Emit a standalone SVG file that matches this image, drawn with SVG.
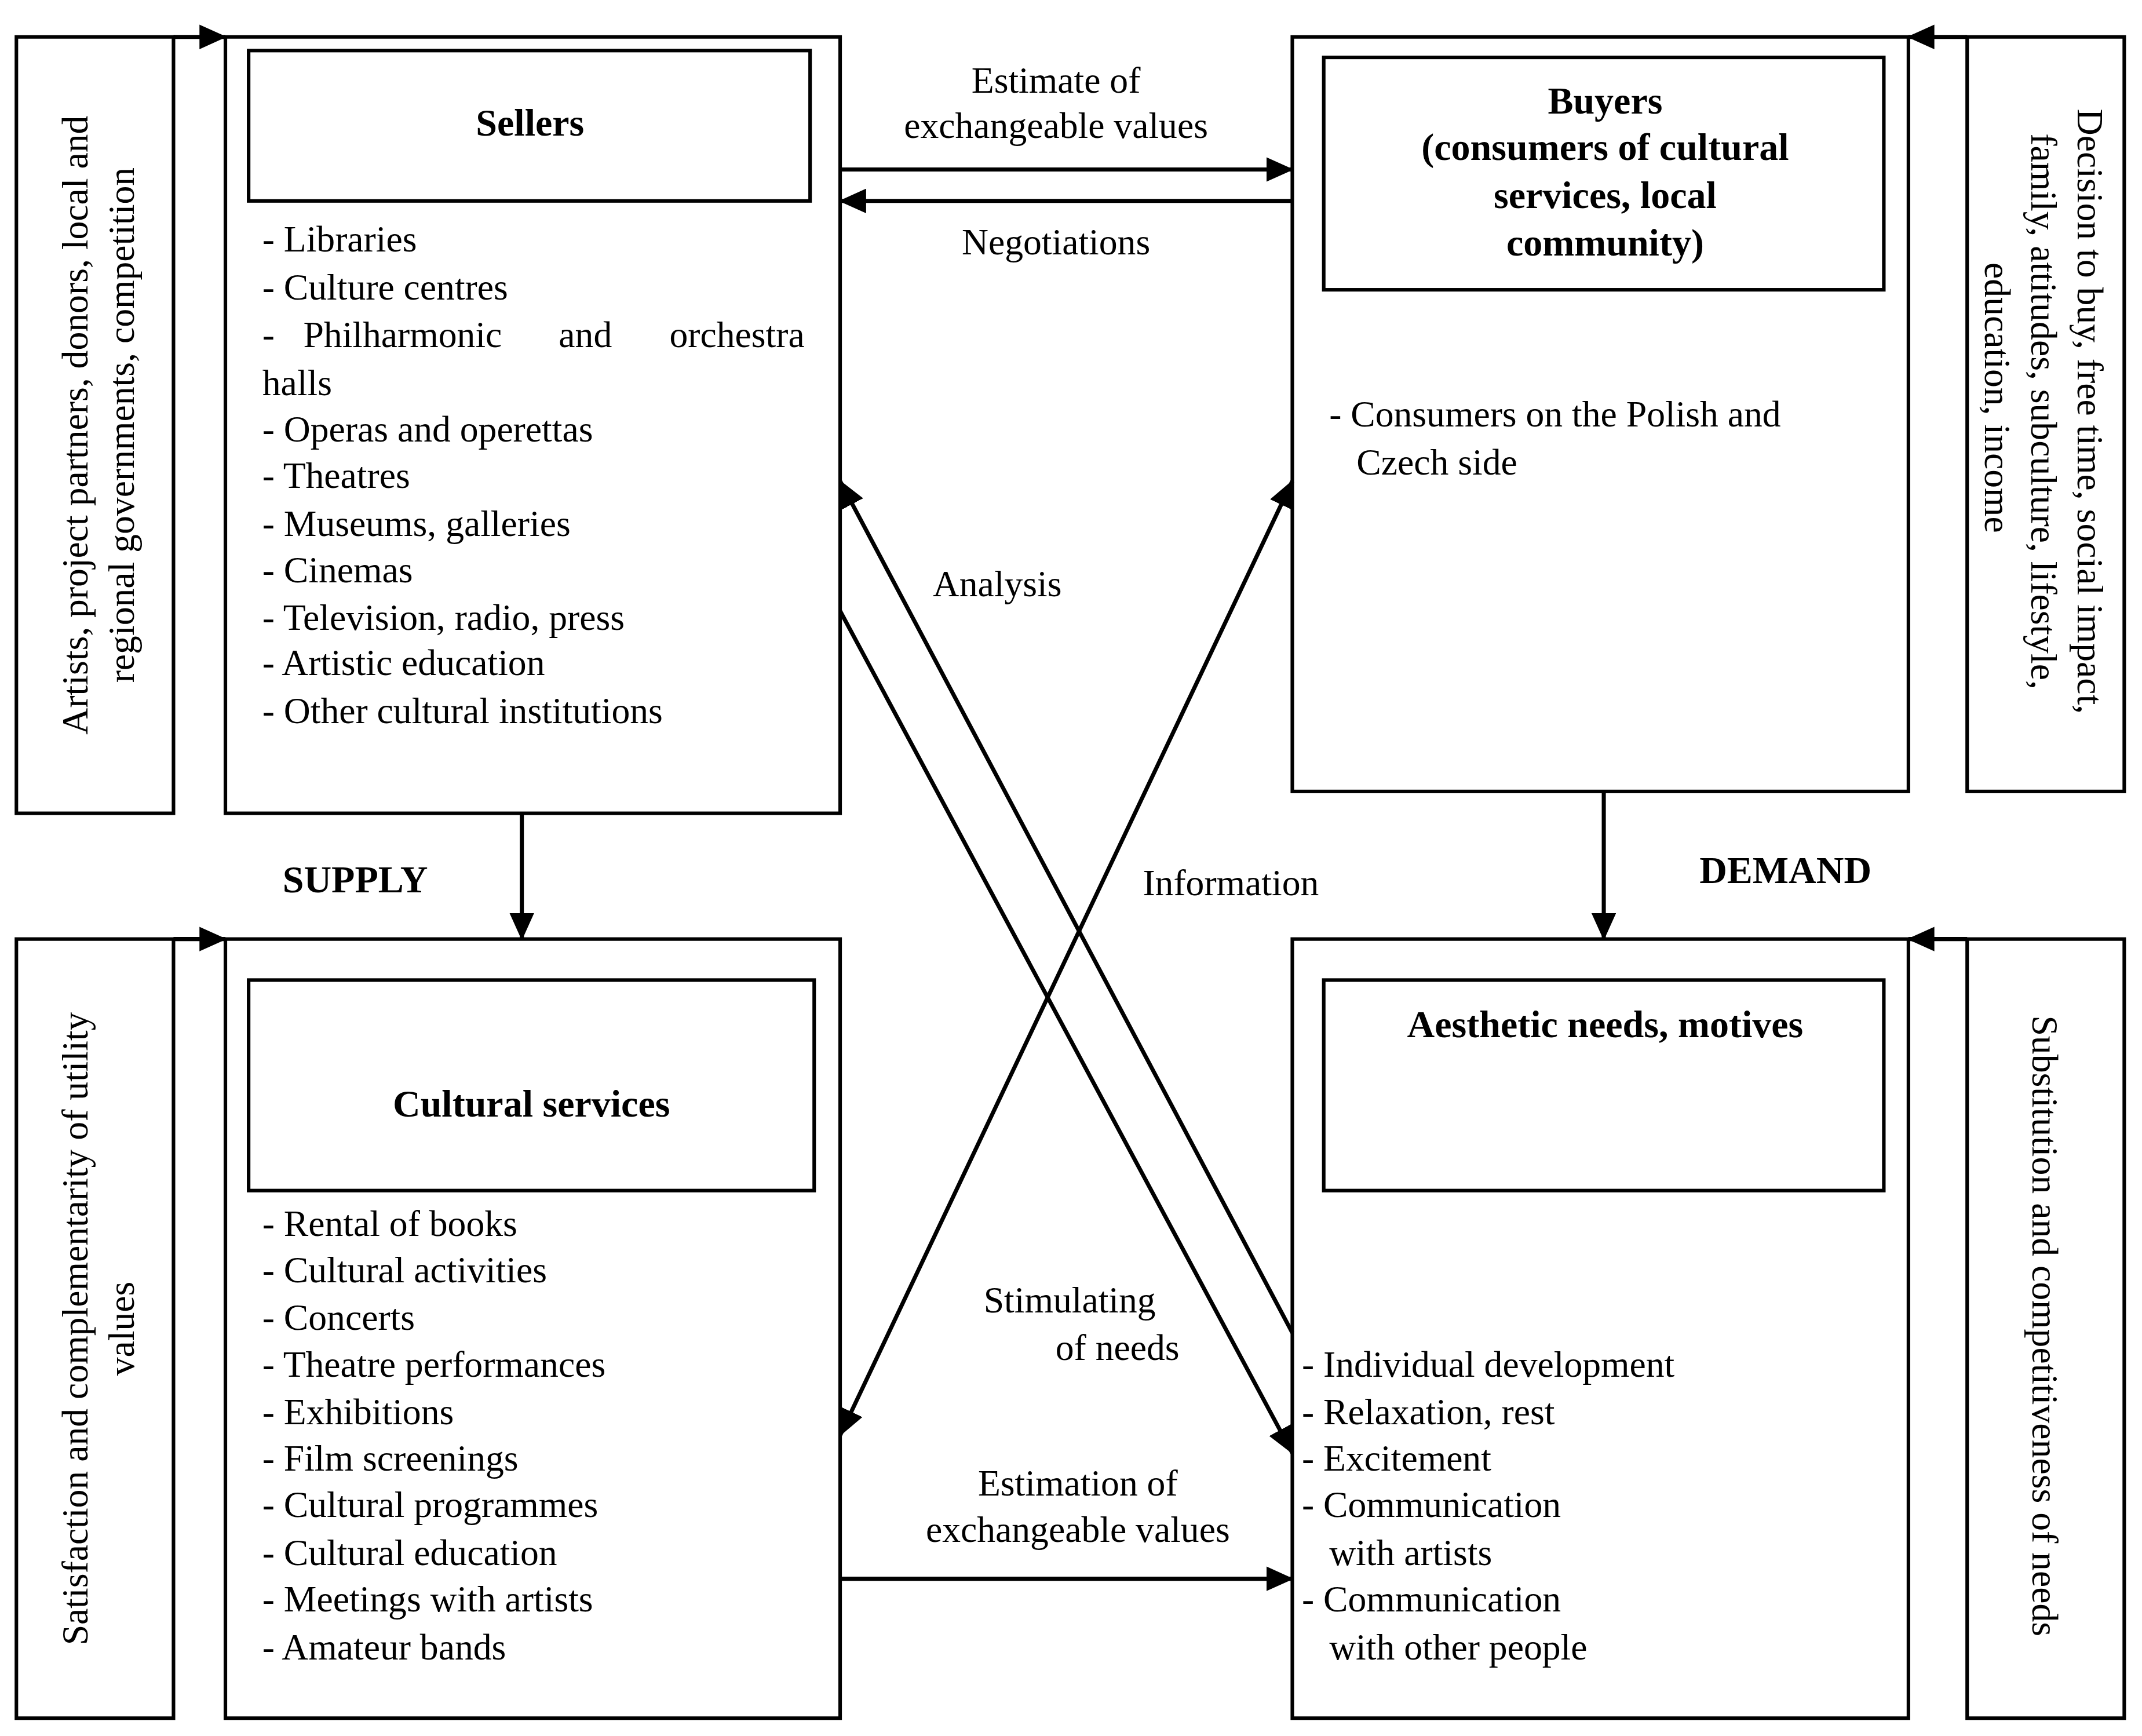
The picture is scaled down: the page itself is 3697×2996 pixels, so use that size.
<svg xmlns="http://www.w3.org/2000/svg" width="3697" height="2996" viewBox="0 0 3697 2996">
<style>
.b{fill:none;stroke:#000;stroke-width:2.6}
.t{font-family:"Liberation Serif","DejaVu Serif",serif;font-size:27px;fill:#000}
.h{font-family:"Liberation Serif","DejaVu Serif",serif;font-size:28px;font-weight:bold;fill:#000}
.c{text-anchor:middle}
.l{stroke:#000;stroke-width:3;fill:none}
</style>
<defs>
<marker id="a" viewBox="0 0 20 18" refX="19" refY="9" markerWidth="20" markerHeight="18" markerUnits="userSpaceOnUse" orient="auto-start-reverse"><path d="M0,0L20,9L0,18z" fill="#000"/></marker>
</defs>
<rect width="3697" height="2996" fill="#fff"/>
<g transform="scale(2.3578,2.359)">
<g id="leftTop"><rect class="b" x="12" y="27" width="115" height="568"/>
<text class="t c" transform="translate(64,311) rotate(-90)">Artists, project partners, donors, local and</text>
<text class="t c" transform="translate(98,311) rotate(-90)">regional governments, competition</text></g>
<g id="sellers"><rect class="b" x="165" y="27" width="450" height="568"/><rect class="b" x="182" y="37" width="411" height="110"/>
<text class="h c" x="388" y="99">Sellers</text>
<text class="t" x="192" y="184">- Libraries</text>
<text class="t" x="192" y="219">- Culture centres</text>
<text class="t" x="192" y="254">-</text><text class="t" x="222" y="254">Philharmonic</text><text class="t" x="409" y="254">and</text><text class="t" x="589" y="254" text-anchor="end">orchestra</text>
<text class="t" x="192" y="289">halls</text>
<text class="t" x="192" y="323">- Operas and operettas</text>
<text class="t" x="192" y="357">- Theatres</text>
<text class="t" x="192" y="392">- Museums, galleries</text>
<text class="t" x="192" y="426">- Cinemas</text>
<text class="t" x="192" y="461">- Television, radio, press</text>
<text class="t" x="192" y="494">- Artistic education</text>
<text class="t" x="192" y="529">- Other cultural institutions</text></g>
<g id="buyers"><rect class="b" x="946" y="27" width="451" height="552"/><rect class="b" x="969" y="42" width="410" height="170"/>
<text class="h c" x="1175" y="83">Buyers</text>
<text class="h c" x="1175" y="117">(consumers of cultural</text>
<text class="h c" x="1175" y="152">services, local</text>
<text class="h c" x="1175" y="187">community)</text>
<text class="t" x="973" y="312">- Consumers on the Polish and</text>
<text class="t" x="993" y="347">Czech side</text></g>
<g id="rightTop"><rect class="b" x="1440" y="27" width="115" height="552"/>
<text class="t c" transform="translate(1521,301) rotate(90)">Decision to buy, free time, social impact,</text>
<text class="t c" transform="translate(1487,301) rotate(90)">family, attitudes, subculture, lifestyle,</text>
<text class="t c" transform="translate(1453,291) rotate(90)">education, income</text></g>
<g id="leftBottom"><rect class="b" x="12" y="687" width="115" height="570"/>
<text class="t c" transform="translate(64,972) rotate(-90)">Satisfaction and complementarity of utility</text>
<text class="t c" transform="translate(98,972) rotate(-90)">values</text></g>
<g id="cultural"><rect class="b" x="165" y="687" width="450" height="570"/><rect class="b" x="182" y="717" width="414" height="154"/>
<text class="h c" x="389" y="817">Cultural services</text>
<text class="t" x="192" y="904">- Rental of books</text>
<text class="t" x="192" y="938">- Cultural activities</text>
<text class="t" x="192" y="973">- Concerts</text>
<text class="t" x="192" y="1007">- Theatre performances</text>
<text class="t" x="192" y="1042">- Exhibitions</text>
<text class="t" x="192" y="1076">- Film screenings</text>
<text class="t" x="192" y="1110">- Cultural programmes</text>
<text class="t" x="192" y="1145">- Cultural education</text>
<text class="t" x="192" y="1179">- Meetings with artists</text>
<text class="t" x="192" y="1214">- Amateur bands</text></g>
<g id="aesthetic"><rect class="b" x="946" y="687" width="451" height="570"/><rect class="b" x="969" y="717" width="410" height="154"/>
<text class="h c" x="1175" y="759">Aesthetic needs, motives</text>
<text class="t" x="953" y="1007">- Individual development</text>
<text class="t" x="953" y="1042">- Relaxation, rest</text>
<text class="t" x="953" y="1076">- Excitement</text>
<text class="t" x="953" y="1110">- Communication</text>
<text class="t" x="973" y="1145">with artists</text>
<text class="t" x="953" y="1179">- Communication</text>
<text class="t" x="973" y="1214">with other people</text></g>
<g id="rightBottom"><rect class="b" x="1440" y="687" width="115" height="570"/>
<text class="t c" transform="translate(1488,970) rotate(90)">Substitution and competitiveness of needs</text></g>
<g id="labels">
<text class="t c" x="773" y="68">Estimate of</text>
<text class="t c" x="773" y="101">exchangeable values</text>
<text class="t c" x="773" y="186">Negotiations</text>
<text class="t c" x="730" y="436">Analysis</text>
<text class="t c" x="901" y="655">Information</text>
<text class="h c" x="260" y="653">SUPPLY</text>
<text class="h c" x="1307" y="646">DEMAND</text>
<text class="t c" x="783" y="960">Stimulating</text>
<text class="t c" x="818" y="995">of needs</text>
<text class="t c" x="789" y="1094">Estimation of</text>
<text class="t c" x="789" y="1128">exchangeable values</text>
</g>
<g id="connectors">
<path class="l" d="M127,27H165" marker-end="url(#a)"/>
<path class="l" d="M127,687H165" marker-end="url(#a)"/>
<path class="l" d="M1440,27H1397" marker-end="url(#a)"/>
<path class="l" d="M1440,687H1397" marker-end="url(#a)"/>
<path class="l" d="M615,124H946" marker-end="url(#a)"/>
<path class="l" d="M946,147H615" marker-end="url(#a)"/>
<path class="l" d="M382,595V687" marker-end="url(#a)"/>
<path class="l" d="M1174,579V687" marker-end="url(#a)"/>
<path class="l" d="M615,1155H946" marker-end="url(#a)"/>
<path class="l" d="M946,975L615,352" marker-end="url(#a)"/>
<path class="l" d="M615,447L946,1063" marker-end="url(#a)"/>
<path class="l" d="M615,1050L946,352" marker-start="url(#a)" marker-end="url(#a)"/>
</g>
</g>
</svg>
